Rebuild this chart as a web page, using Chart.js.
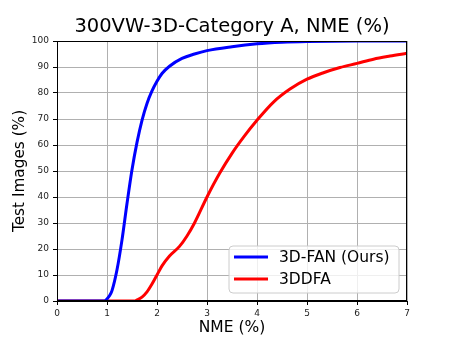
<!DOCTYPE html>
<html>
<head>
<meta charset="utf-8">
<script src="https://cdn.jsdelivr.net/npm/chart.js@4/dist/chart.umd.min.js"></script>
<style>
html,body{margin:0;padding:0;background:#fff;}
#wrap{width:452px;height:339px;}
</style>
</head>
<body>
<div id="wrap"><canvas id="c" width="452" height="339"></canvas></div>
<script>
const chartTitle = '300VW-3D-Category A, NME (%)';
const xLabel = 'NME (%)';
const yLabel = 'Test Images (%)';
const seriesNames = ['3D-FAN (Ours)', '3DDFA'];

const fanNme = [0, 0.95, 1.0, 1.05, 1.1, 1.2, 1.3, 1.4, 1.5, 1.6, 1.7, 1.8, 1.9, 2.0, 2.1, 2.25, 2.5, 2.75, 3.0, 3.5, 4.0, 4.5, 5.0, 6.0, 7.0];
const fanPct = [0, 0, 0.8, 2, 4, 12, 23.5, 37.5, 50.5, 61, 69.5, 76, 80.8, 84.5, 87.5, 90.3, 93.3, 95, 96.3, 97.8, 98.9, 99.5, 99.8, 100, 100];

const ddfaNme = [0, 1.55, 1.6, 1.7, 1.8, 1.9, 2.0, 2.1, 2.25, 2.45, 2.6, 2.75, 3.0, 3.25, 3.5, 3.75, 4.0, 4.33, 4.66, 5.0, 5.33, 5.66, 6.0, 6.33, 6.66, 7.0];
const ddfaPct = [0, 0, 0.4, 1.5, 3.5, 6.5, 10, 13.5, 17.3, 21, 25, 30, 40, 49, 56.8, 63.5, 69.5, 76.5, 81.5, 85.3, 87.8, 89.8, 91.4, 93, 94.2, 95.3];

const xTicks = [0, 1, 2, 3, 4, 5, 6, 7];
const yTicks = [0, 10, 20, 30, 40, 50, 60, 70, 80, 90, 100];

const FONT = "'DejaVu Sans', sans-serif";

const toPts = (xs, ys) => xs.map((x, i) => ({x: x, y: ys[i]}));

const decor = {
  id: 'decor',
  afterDatasetsDraw(chart) {
    const ctx = chart.ctx, a = chart.chartArea;
    ctx.save();
    ctx.strokeStyle = '#000';
    ctx.lineWidth = 1;
    ctx.strokeRect(Math.round(a.left) + 0.5, Math.round(a.top) + 0.5, Math.round(a.right - a.left) - 1, Math.round(a.bottom - a.top) - 1);
    ctx.restore();
  },
  afterDraw(chart) {
    const ctx = chart.ctx, a = chart.chartArea;
    ctx.save();
    ctx.fillStyle = '#000';
    ctx.font = '19.5px ' + FONT;
    ctx.textAlign = 'center';
    ctx.textBaseline = 'middle';
    ctx.fillText(chartTitle, (a.left + a.right) / 2, 27);
    const bx = 229, by = 246, bw = 170, bh = 47, r = 4;
    ctx.beginPath();
    ctx.moveTo(bx + r, by);
    ctx.arcTo(bx + bw, by, bx + bw, by + bh, r);
    ctx.arcTo(bx + bw, by + bh, bx, by + bh, r);
    ctx.arcTo(bx, by + bh, bx, by, r);
    ctx.arcTo(bx, by, bx + bw, by, r);
    ctx.closePath();
    ctx.fillStyle = 'rgba(255,255,255,0.8)';
    ctx.fill();
    ctx.strokeStyle = '#cccccc';
    ctx.lineWidth = 1;
    ctx.stroke();
    const rows = [257, 279];
    chart.data.datasets.forEach((ds, i) => {
      ctx.beginPath();
      ctx.moveTo(234, rows[i]);
      ctx.lineTo(268, rows[i]);
      ctx.strokeStyle = ds.borderColor;
      ctx.lineWidth = 3;
      ctx.stroke();
      ctx.fillStyle = '#000';
      ctx.font = '15.5px ' + FONT;
      ctx.textAlign = 'left';
      ctx.textBaseline = 'middle';
      ctx.fillText(ds.label, 279, rows[i] + 1);
    });
    ctx.restore();
  }
};

new Chart(document.getElementById('c'), {
  type: 'line',
  data: {
    datasets: [
      {label: seriesNames[0], data: toPts(fanNme, fanPct), borderColor: '#0000ff', borderWidth: 3, pointRadius: 0, cubicInterpolationMode: 'monotone', fill: false, clip: 0},
      {label: seriesNames[1], data: toPts(ddfaNme, ddfaPct), borderColor: '#ff0000', borderWidth: 3, pointRadius: 0, cubicInterpolationMode: 'monotone', fill: false, clip: 0}
    ]
  },
  options: {
    responsive: false,
    animation: false,
    devicePixelRatio: 1,
    layout: {padding: {top: 41, right: 45, left: 0, bottom: 0}},
    plugins: {legend: {display: false}, title: {display: false}, tooltip: {enabled: false}},
    scales: {
      x: {
        type: 'linear', min: 0, max: 7,
        afterBuildTicks: s => { s.ticks = xTicks.map(v => ({value: v})); },
        afterFit: s => { s.height = 38; },
        grid: {color: '#b0b0b0', lineWidth: 1, drawTicks: true, tickLength: 4, tickColor: '#000'},
        border: {display: true, color: '#000', width: 1},
        ticks: {color: '#222', font: {family: FONT, size: 9}, padding: 3, maxRotation: 0},
        title: {display: true, text: xLabel, color: '#000', font: {family: FONT, size: 15.5}, padding: {top: 0, bottom: 2}}
      },
      y: {
        type: 'linear', min: 0, max: 100,
        afterBuildTicks: s => { s.ticks = yTicks.map(v => ({value: v})); },
        afterFit: s => { s.width = 57; },
        grid: {color: '#b0b0b0', lineWidth: 1, drawTicks: true, tickLength: 4, tickColor: '#000'},
        border: {display: true, color: '#000', width: 1},
        ticks: {color: '#222', font: {family: FONT, size: 9}, padding: 4},
        title: {display: true, text: yLabel, color: '#000', font: {family: FONT, size: 15.3}, padding: {top: 11, bottom: 0}}
      }
    }
  },
  plugins: [decor]
});
</script>
</body>
</html>
